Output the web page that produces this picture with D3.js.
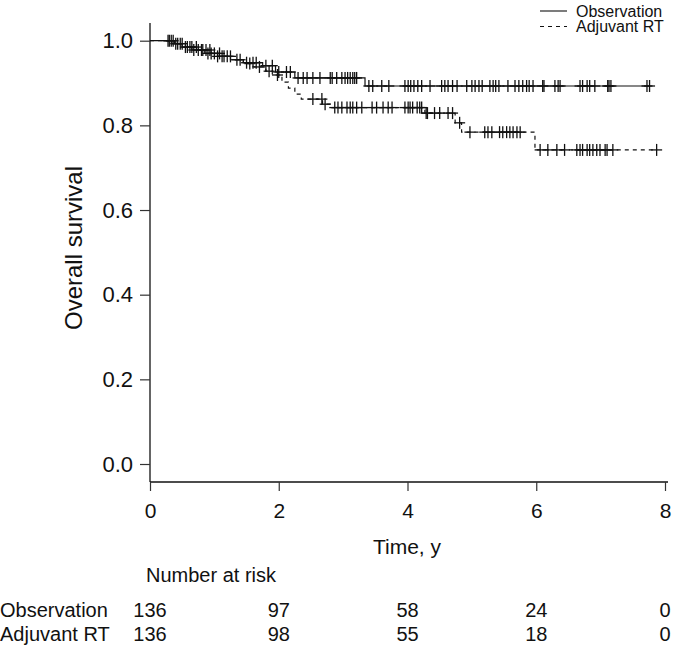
<!DOCTYPE html>
<html><head><meta charset="utf-8">
<script src="https://cdn.jsdelivr.net/npm/d3@7"></script>
<style>
html,body{margin:0;padding:0;background:#fff;}
svg text{font-family:"Liberation Sans",Arial,Helvetica,sans-serif;fill:#111;}
</style></head>
<body>
<svg id="chart" width="678" height="646"></svg>
<script>
// ---------- data ----------
const seriesNames = ["Observation", "Adjuvant RT"];
// Observation: event times (years) and survival after each event
const obsEventTimes = [0.34, 0.5, 0.65, 0.85, 1.05, 1.25, 1.45, 1.75, 1.95, 2.25, 3.34];
const obsSurvival   = [0.993, 0.985, 0.978, 0.970, 0.963, 0.955, 0.948, 0.941, 0.926, 0.912, 0.893];
const obsCensorTimes = [0.28,0.33,0.40,0.47,0.55,0.62,0.68,0.75,0.82,0.90,0.95,1.05,1.12,1.20,1.35,1.50,1.60,1.65,1.80,1.90,2.00,2.12,2.18,
  2.30,2.38,2.44,2.53,2.64,2.80,2.83,2.90,2.98,3.03,3.07,3.11,3.15,3.18,3.21,
  3.40,3.46,3.60,3.71,3.96,4.01,4.05,4.10,4.16,4.22,4.35,4.53,4.58,4.63,4.70,4.77,4.92,5.00,5.05,5.11,5.16,5.28,5.33,5.37,5.42,5.56,5.67,5.73,5.79,5.85,5.89,5.95,6.10,6.12,6.29,6.34,6.37,6.68,6.72,6.79,6.83,6.91,7.11,7.13,7.16,7.72,7.76];
// Adjuvant RT
const rtEventTimes = [0.38, 0.55, 0.75, 0.95, 1.1, 1.3, 1.45, 1.6, 1.8, 1.9, 2.05, 2.15, 2.25, 2.35, 2.68, 2.8, 4.27, 4.74, 4.84, 5.98];
const rtSurvival   = [0.993, 0.985, 0.978, 0.970, 0.963, 0.955, 0.946, 0.938, 0.928, 0.919, 0.902, 0.888, 0.874, 0.862, 0.850, 0.842, 0.829, 0.806, 0.784, 0.742];
const rtCensorTimes = [0.30,0.36,0.43,0.50,0.58,0.65,0.72,0.80,0.87,0.93,1.00,1.08,1.15,1.25,1.40,1.55,1.70,1.85,1.98,
  2.53,2.67,2.72,2.87,2.92,2.98,3.06,3.11,3.15,3.21,3.29,3.45,3.52,3.62,3.70,3.76,3.96,4.01,4.04,4.08,4.15,4.19,4.22,
  4.29,4.31,4.42,4.50,4.63,4.70,4.81,4.97,5.20,5.25,5.31,5.43,5.48,5.54,5.59,5.64,5.70,5.75,
  6.06,6.18,6.32,6.44,6.63,6.68,6.72,6.79,6.83,6.88,6.94,6.99,7.07,7.10,7.19,7.87];
const xTicks = [0, 2, 4, 6, 8];
const yTicks = [0.0, 0.2, 0.4, 0.6, 0.8, 1.0];
const riskTimes = [0, 2, 4, 6, 8];
const riskObservation = [136, 97, 58, 24, 0];
const riskAdjuvant = [136, 98, 55, 18, 0];

// ---------- layout ----------
const svg = d3.select("#chart");
const x = d3.scaleLinear().domain([0, 8]).range([150, 665]);
const y = d3.scaleLinear().domain([0, 1]).range([464, 40.7]);
const axisY0 = 482;

function stepPath(evT, evS, endT) {
  const pts = [[0, 1]];
  let s = 1;
  evT.forEach((t, i) => { pts.push([t, s]); s = evS[i]; pts.push([t, s]); });
  pts.push([endT, s]);
  return d3.line().x(d => x(d[0])).y(d => y(d[1]))(pts);
}
function survAt(evT, evS, t) {
  let s = 1;
  evT.forEach((et, i) => { if (et <= t) s = evS[i]; });
  return s;
}

const series = [
  {ev: obsEventTimes, sv: obsSurvival, cen: obsCensorTimes, dash: null},
  {ev: rtEventTimes, sv: rtSurvival, cen: rtCensorTimes, dash: "4,4"}
];
series.forEach(sr => {
  const endT = d3.max(sr.cen);
  svg.append("path").attr("d", stepPath(sr.ev, sr.sv, endT))
    .attr("fill", "none").attr("stroke", "#111").attr("stroke-width", 1.2)
    .attr("stroke-dasharray", sr.dash);
  const g = svg.append("g").attr("stroke", "#111").attr("stroke-width", 1.3);
  sr.cen.forEach(t => {
    const cx = x(t), cy = y(survAt(sr.ev, sr.sv, t));
    g.append("line").attr("x1", cx).attr("x2", cx).attr("y1", cy - 6).attr("y2", cy + 6);
    g.append("line").attr("x1", cx - 5.5).attr("x2", cx + 5.5).attr("y1", cy).attr("y2", cy);
  });
});

// axes
svg.append("line").attr("x1", 150).attr("x2", 150).attr("y1", 23).attr("y2", axisY0)
  .attr("stroke", "#111").attr("stroke-width", 1.3);
svg.append("line").attr("x1", 150).attr("x2", 668).attr("y1", axisY0).attr("y2", axisY0)
  .attr("stroke", "#111").attr("stroke-width", 1.3);

const yAxis = svg.append("g").attr("transform", "translate(150,0)")
  .call(d3.axisLeft(y).tickValues(yTicks).tickFormat(d3.format(".1f")).tickSize(10).tickPadding(7));
yAxis.select(".domain").remove();
yAxis.selectAll("line").attr("stroke", "#333").attr("stroke-width", 1.2);
yAxis.selectAll("text").attr("font-size", 22).attr("font-family", null);

const xAxis = svg.append("g").attr("transform", `translate(0,${axisY0})`)
  .call(d3.axisBottom(x).tickValues(xTicks).tickFormat(d3.format("d")).tickSize(9).tickPadding(12));
xAxis.select(".domain").remove();
xAxis.selectAll("line").attr("stroke", "#333").attr("stroke-width", 1.2);
xAxis.selectAll("text").attr("font-size", 21).attr("font-family", null);

svg.append("text").attr("x", 407).attr("y", 554).attr("text-anchor", "middle")
  .attr("font-size", 21).text("Time, y");
svg.append("text").attr("transform", "translate(82,248) rotate(-90)").attr("text-anchor", "middle")
  .attr("font-size", 24).text("Overall survival");

// legend
const leg = svg.append("g");
seriesNames.forEach((n, i) => {
  const ly = 11 + i * 15.5;
  leg.append("line").attr("x1", 540).attr("x2", 567).attr("y1", ly).attr("y2", ly)
    .attr("stroke", "#111").attr("stroke-width", 1.1).attr("stroke-dasharray", series[i].dash);
  leg.append("text").attr("x", 576).attr("y", ly + 5.5).attr("font-size", 16).text(n);
});

// risk table
svg.append("text").attr("x", 146).attr("y", 582).attr("font-size", 20).text("Number at risk");
[riskObservation, riskAdjuvant].forEach((row, i) => {
  const ry = 617 + i * 23.5;
  svg.append("text").attr("x", 0).attr("y", ry).attr("font-size", 20).text(seriesNames[i]);
  row.forEach((v, j) => {
    svg.append("text").attr("x", x(riskTimes[j])).attr("y", ry).attr("text-anchor", "middle")
      .attr("font-size", 20).text(v);
  });
});
</script>
</body></html>
